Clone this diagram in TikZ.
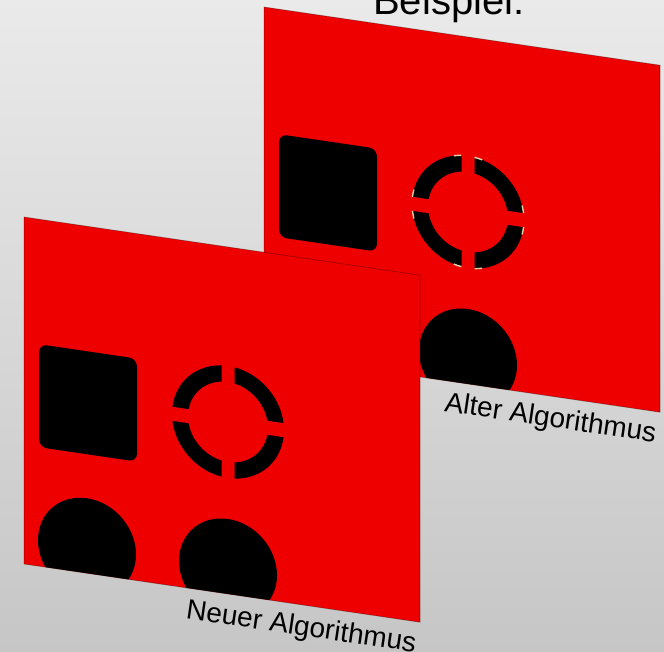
\documentclass[tikz,border=0pt]{standalone}
\usepackage{fontspec}
\setmainfont{Liberation Sans}
\definecolor{panelred}{RGB}{238,0,0}
\definecolor{bgtop}{RGB}{234,234,234}
\definecolor{bgbot}{RGB}{198,198,198}
\definecolor{artifact}{RGB}{228,210,165}
\tikzset{
  panelbody/.style={fill=panelred, draw=black, draw opacity=0.3, line width=0.7pt},
  blackshape/.style={fill=black},
  gapbar/.style={fill=panelred},
  lbltext/.style={inner sep=0pt, rotate=-8.36, font=\fontsize{28}{32}\selectfont},
  artline/.style={draw=artifact, line width=1.4pt},
}
\begin{document}
\begin{tikzpicture}[x=1pt, y=-1pt]
\useasboundingbox (0,0) rectangle (664,652);
\clip (0,0) rectangle (664,652);
\shade[top color=bgtop, bottom color=bgbot] (0,0) rectangle (664,652);

\node[anchor=base west, inner sep=0pt, font=\fontsize{40}{48}\selectfont] (title) at (373,15) {Beispiel:};

% ---------- back panel: Alter Algorithmus ----------
\begin{scope}[shift={(264,7)}, yslant=-0.147]
  \fill[panelred] (0,0) rectangle (396,347);
  \begin{scope}
    \clip (0,0) rectangle (396,347);
    \fill[blackshape, rounded corners=8] (15,125) rectangle (113,228);
    \fill[blackshape, even odd rule] (204,175) circle (56) (204,175) circle (40);
    \fill[gapbar] (197.5,110) rectangle (210.5,240);
    \fill[gapbar] (130,168) rectangle (280,182);
    \foreach \s/\e in {7.2/15, 83.3/75.3, 96.7/104.7, 172.8/165, 187.2/195, 263.3/255.3, 276.7/284.7, 352.8/345}
      \draw[artline] (204,175) ++(\s:56) arc[start angle=\s, end angle=\e, radius=56];
    \fill[blackshape] (63,321) circle (49);
    \fill[blackshape] (204,321) circle (49);
  \end{scope}
  \draw[draw=black, draw opacity=0.3, line width=0.7pt] (0,0) rectangle (396,347);
  \node[lbltext, anchor=north east] (altlabel) at (394,357) {Alter Algorithmus};
\end{scope}

% ---------- front panel: Neuer Algorithmus ----------
\begin{scope}[shift={(24,217)}, yslant=-0.147]
  \fill[panelred] (0,0) rectangle (396,347);
  \begin{scope}
    \clip (0,0) rectangle (396,347);
    \fill[blackshape, rounded corners=8] (15,125) rectangle (113,228);
    \fill[blackshape, even odd rule] (204,175) circle (56) (204,175) circle (40);
    \fill[gapbar] (197.5,110) rectangle (210.5,240);
    \fill[gapbar] (130,168) rectangle (280,182);
    \fill[blackshape] (63,321) circle (49);
    \fill[blackshape] (204,321) circle (49);
  \end{scope}
  \draw[draw=black, draw opacity=0.3, line width=0.7pt] (0,0) rectangle (396,347);
  \node[lbltext, anchor=north east] (neulabel) at (394,357) {Neuer Algorithmus};
\end{scope}
\end{tikzpicture}
\end{document}
